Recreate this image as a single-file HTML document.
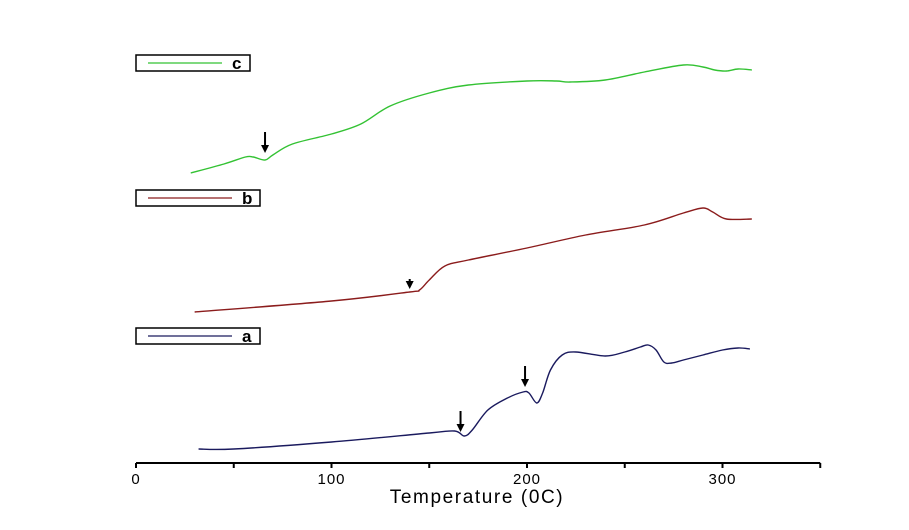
<!DOCTYPE html>
<html><head><meta charset="utf-8"><style>
html,body{margin:0;padding:0;background:#fff;}
svg{display:block;font-family:"Liberation Sans",Arial,sans-serif;}
</style></head><body>
<svg id="chart" width="909" height="530" viewBox="0 0 909 530">
  <g id="axis"></g>
  <text x="477" y="503" font-size="19" text-anchor="middle" letter-spacing="1.6">Temperature (0C)</text>
  <g id="series"></g>
  <g id="legends"></g>
  <g id="arrows"></g>
</svg>
<script>
const xTicks = [0, 50, 100, 150, 200, 250, 300, 350];
const xTickLabels = ["0", "", "100", "", "200", "", "300", ""];
// signal values (arbitrary units, higher = up)
const tempA = [32,50,100,150,163,168,172,180,190,198,201,205,208,212,218,225,240,250,258,262,266,270,274,280,290,300,308,314];
const sigA  = [14,14,21,30,32,27,33,53,65,71,70,60,70,93,108,111,107,111,116,118,113,101,100,103,108,113,115,114];
const tempB = [30,100,140,145,150,158,170,200,230,260,280,290,295,302,315];
const sigB  = [151,162,171,173,183,197,203,215,228,238,250,255,251,244,244];
const tempC = [28,45,56,60,66,70,80,100,115,130,150,170,200,215,222,240,260,280,290,296,302,308,315];
const sigC  = [290,299,306,306,303,308,319,329,339,357,370,378,382,382,381,383,391,398,396,393,392,394,393];
const arrowT = [66, 140, 166, 199];
const arrowSig = [310, 174, 31, 76];
const legendNames = ["c","b","a"];

const x = t => 136 + t * 1.955;
const y = v => 463 - v;
const NS = "http://www.w3.org/2000/svg";
function mk(tag, attrs, parent){const e=document.createElementNS(NS,tag);for(const k in attrs)e.setAttribute(k,attrs[k]);parent.appendChild(e);return e;}

const ax = document.getElementById('axis');
const axLine = mk('line',{x1:x(0),x2:x(350),y1:463,y2:463,stroke:'#000','stroke-width':2},ax);


xTicks.forEach((t,i)=>{
  const tk = mk('line',{x1:x(t),x2:x(t),y1:463,y2:468,stroke:'#000','stroke-width':2},ax);
  
  
  if(xTickLabels[i]){
    const tl = mk('text',{x:x(t),y:484,'font-size':15,'text-anchor':'middle','letter-spacing':1},ax);
    tl.textContent = xTickLabels[i];
    
    
  }
});

function path(ts, vs){
  const p = ts.map((t,i)=>[x(t),y(vs[i])]);
  let d = `M${p[0][0]},${p[0][1]}`;
  for(let i=0;i<p.length-1;i++){
    const p0=p[i-1]||p[i], p1=p[i], p2=p[i+1], p3=p[i+2]||p[i+1];
    const c1=[p1[0]+(p2[0]-p0[0])/6, p1[1]+(p2[1]-p0[1])/6];
    const c2=[p2[0]-(p3[0]-p1[0])/6, p2[1]-(p3[1]-p1[1])/6];
    d+=` C${c1[0]},${c1[1]} ${c2[0]},${c2[1]} ${p2[0]},${p2[1]}`;
  }
  return d;
}
const sg = document.getElementById('series');
const sA = mk('path',{d:path(tempA,sigA),fill:'none',stroke:'#1a1a5e','stroke-width':1.4},sg);


const sB = mk('path',{d:path(tempB,sigB),fill:'none',stroke:'#8b1c1c','stroke-width':1.4},sg);


const sC = mk('path',{d:path(tempC,sigC),fill:'none',stroke:'#33c233','stroke-width':1.4},sg);



const lg = document.getElementById('legends');
const legendBoxes = [[136,55,114,'#33c233'],[136,190,124,'#8b1c1c'],[136,328,124,'#1a1a5e']];
legendBoxes.forEach((b,i)=>{
  const g = mk('g',{},lg);
  
  
  mk('rect',{x:b[0],y:b[1],width:b[2],height:16,fill:'#fff',stroke:'#000','stroke-width':1.5},g);
  mk('line',{x1:b[0]+12,x2:b[0]+b[2]-28,y1:b[1]+8,y2:b[1]+8,stroke:b[3],'stroke-width':1.2},g);
  const t = mk('text',{x:b[0]+b[2]-18,y:b[1]+14,'font-size':17,'font-weight':'bold'},g);
  t.textContent = legendNames[i];
});

const ar = document.getElementById('arrows');
arrowT.forEach((t,i)=>{
  const g = mk('g',{},ar);
  
  
  const xx=x(t), tip=y(arrowSig[i]);
  const len = i===1?10:21;
  mk('line',{x1:xx,x2:xx,y1:tip-len,y2:tip-5,stroke:'#000','stroke-width':2},g);
  mk('polygon',{points:`${xx-4},${tip-8} ${xx+4},${tip-8} ${xx},${tip}`,fill:'#000'},g);
});
</script>
</body></html>
